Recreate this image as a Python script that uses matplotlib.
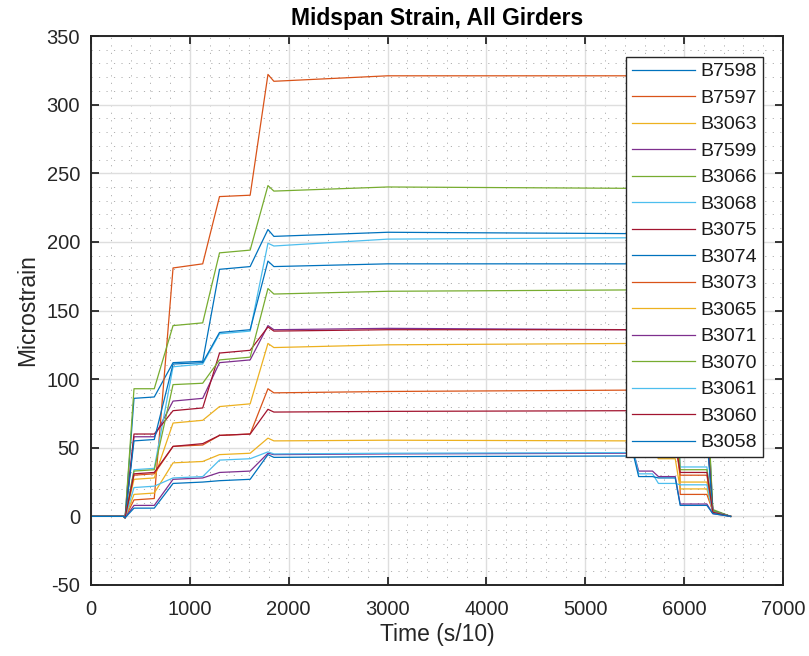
import matplotlib
matplotlib.use("Agg")
import matplotlib.pyplot as plt
from matplotlib.ticker import MultipleLocator

plt.rcParams['font.family'] = ['Liberation Sans', 'DejaVu Sans']
plt.rcParams['axes.unicode_minus'] = False

# Sample times (s/10) shared by all gauges
time = [0, 330, 345, 435, 640, 830, 1130, 1300, 1610, 1790, 1850, 3000,
        5490, 5540, 5680, 5740, 5910, 5960, 6230, 6290, 6470]

# Midspan strain per girder (microstrain) at the sample times
b7598 = [0, 0, -1, 86, 87, 112, 113, 180, 182, 209, 204, 207, 206, 184, 184, 115, 115, 90, 90, 4, 0]
b7597 = [0, 0, -1, 12, 13, 181, 184, 233, 234, 322, 317, 321, 321, 236, 236, 186, 186, 16, 16, 4, 0]
b3063 = [0, 0, -1, 27, 28, 68, 70, 80, 82, 126, 123, 125, 126, 84, 84, 72, 72, 25, 25, 3, 0]
b7599 = [0, 0, -1, 58, 58, 84, 86, 112, 114, 139, 136, 137, 136, 116, 116, 88, 88, 61, 61, 4, 0]
b3066 = [0, 0, -1, 93, 93, 139, 141, 192, 194, 241, 237, 240, 239, 196, 196, 143, 143, 95, 95, 5, 0]
b3068 = [0, 0, -1, 34, 35, 109, 111, 133, 135, 199, 197, 202, 203, 137, 137, 113, 113, 36, 36, 4, 0]
b3075 = [0, 0, -1, 60, 60, 77, 79, 119, 121, 138, 135, 136, 136, 123, 123, 81, 81, 63, 63, 4, 0]
b3074 = [0, 0, -1, 55, 56, 111, 112, 134, 136, 186, 182, 184, 184, 138, 138, 114, 114, 57, 57, 4, 0]
b3073 = [0, 0, -1, 30, 31, 51, 52, 59, 60, 93, 90, 91, 92, 62, 62, 54, 54, 30, 30, 3, 0]
b3065 = [0, 0, -1, 16, 17, 39, 40, 45, 46, 57, 55, 55.5, 55, 48, 48, 42, 42, 20, 20, 3, 0]
b3071 = [0, 0, -1, 8, 8, 27, 28, 32, 33, 46, 45, 45.5, 46, 33, 33, 29, 29, 9, 9, 2, 0]
b3070 = [0, 0, -1, 33, 34, 96, 97, 114, 116, 166, 162, 164, 165, 118, 118, 99, 99, 34, 34, 4, 0]
b3061 = [0, 0, -1, 21, 22, 28, 29, 41, 42, 47, 45.5, 46, 46.5, 31, 31, 24, 24, 23, 23, 3, 0]
b3060 = [0, 0, -1, 31, 32, 51, 53, 59, 60, 78, 76, 76.5, 77, 62, 62, 55, 55, 32, 32, 3, 0]
b3058 = [0, 0, -1, 6, 6, 24, 25, 26, 27, 45, 43, 43.5, 44, 29, 29, 28, 28, 8, 8, 2, 0]

girders = ['B7598', 'B7597', 'B3063', 'B7599', 'B3066', 'B3068', 'B3075', 'B3074',
           'B3073', 'B3065', 'B3071', 'B3070', 'B3061', 'B3060', 'B3058']
strains = [b7598, b7597, b3063, b7599, b3066, b3068, b3075, b3074,
           b3073, b3065, b3071, b3070, b3061, b3060, b3058]

palette = ['#0072BD', '#D95319', '#EDB120', '#7E2F8E', '#77AC30', '#4DBEEE', '#A2142F']

fig = plt.figure(figsize=(8.09, 6.56), dpi=100)
ax = fig.add_axes([91 / 809, 1 - 585 / 656, (783 - 91) / 809, (585 - 36) / 656])

for i, (name, vals) in enumerate(zip(girders, strains)):
    ax.plot(time, vals, color=palette[i % len(palette)], lw=0.9, label=name)

ax.set_xlim(0, 7000)
ax.set_ylim(-50, 350)
ax.xaxis.set_major_locator(MultipleLocator(1000))
ax.yaxis.set_major_locator(MultipleLocator(50))
ax.xaxis.set_minor_locator(MultipleLocator(200))
ax.yaxis.set_minor_locator(MultipleLocator(10))

axc = '#262626'
ax.grid(which='major', color='#dedede', lw=1.0, ls='-')
ax.grid(which='minor', color='#b0b0b0', lw=0.7, ls=(0, (1.2, 6.5)))
ax.set_axisbelow(True)
ax.tick_params(which='major', direction='in', length=5.5, width=1.3, colors=axc,
               labelsize=14.5, top=True, right=True)
ax.tick_params(axis='x', which='major', pad=11)
ax.tick_params(axis='y', which='major', pad=8)
ax.tick_params(which='minor', length=0, top=True, right=True)
for s in ax.spines.values():
    s.set_color(axc)
    s.set_linewidth(1.4)

ax.set_title('Midspan Strain, All Girders', fontsize=16.5, fontweight='bold', pad=8)
ax.set_xlabel('Time (s/10)', fontsize=16.5, color=axc, labelpad=3)
ax.set_ylabel('Microstrain', fontsize=16.5, color=axc, labelpad=5)

leg = ax.legend(loc='upper right', bbox_to_anchor=((763 - 91) / 692, (585 - 57) / 549),
                borderaxespad=0, fontsize=14, handlelength=3.25, handletextpad=0.3,
                labelspacing=0.457, borderpad=0.3, fancybox=False, framealpha=1,
                edgecolor=axc)
leg.get_frame().set_linewidth(1.0)
for t in leg.get_texts():
    t.set_color('#1a1a1a')

fig.savefig('out.png', dpi=100)
